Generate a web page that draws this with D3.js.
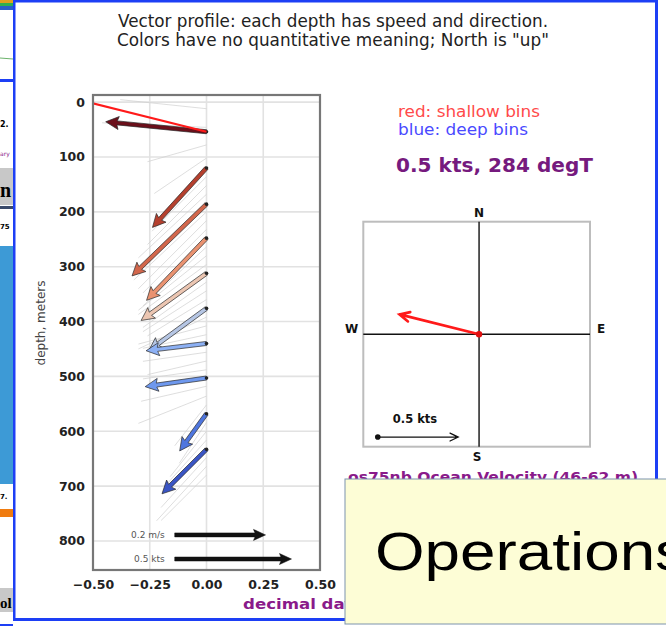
<!DOCTYPE html>
<html>
<head>
<meta charset="utf-8">
<script src="https://cdn.jsdelivr.net/npm/d3@7"></script>
<style>
  body { margin: 0; background: #fff; }
  svg { display: block; }
</style>
</head>
<body>
<svg id="chart" width="666" height="630"></svg>
<script>
/* global d3 */

// ---- data ----
const depthTicks = [0, 100, 200, 300, 400, 500, 600, 700, 800]
const xTicks = [-0.5, -0.25, 0, 0.25, 0.5]

// averaged vectors (m/s), every 4th bin
const arrowDepths = [54, 120, 186, 248, 312, 376, 440, 503, 568, 633]
const arrowU = [-0.222, -0.119, -0.164, -0.132, -0.144, -0.127, -0.133, -0.135, -0.059, -0.098]
const arrowV = [0.022, -0.131, -0.158, -0.137, -0.104, -0.093, -0.016, -0.019, -0.082, -0.098]
const arrowColors = ['#6b0f1a', '#b5402e', '#d2664b', '#e99270', '#ecc6b2',
  '#b6c6e4', '#8cb0f4', '#6e98ee', '#4f76de', '#3a55c4']

// faint single-bin vectors (m/s)
const binDepths = [12, 46, 78, 102, 136, 152, 168, 200, 216, 232, 264, 280, 296, 328, 344, 360,
  392, 408, 424, 456, 472, 488, 518, 536, 552, 584, 600, 616, 648, 664, 680]
const binU = [-0.19, -0.23, -0.13, -0.115, -0.12, -0.13, -0.15, -0.16, -0.15, -0.14, -0.14, -0.15,
  -0.15, -0.14, -0.14, -0.13, -0.15, -0.15, -0.14, -0.14, -0.13, -0.14, -0.144, -0.15, -0.07,
  -0.06, -0.08, -0.09, -0.10, -0.11, -0.10]
const binV = [0.02, 0.01, -0.037, -0.078, -0.12, -0.13, -0.14, -0.15, -0.15, -0.14, -0.13, -0.12,
  -0.11, -0.10, -0.09, -0.08, -0.07, -0.04, -0.03, -0.02, -0.03, -0.02, -0.033, -0.06, -0.09,
  -0.09, -0.10, -0.10, -0.11, -0.12, -0.10]

// mean of the shallow bins
const meanSpeedKts = 0.51
const meanDirDeg = 284
const meanDepth = 54
const meanLabel = '0.5 kts, 284 degT'

// reference arrows
const refLabels = ['0.2 m/s', '0.5 kts']
const refSpeeds = [0.2, 0.5 * 0.5144]
const refDepths = [789, 833]
const compassRefKts = 0.5

const KTS = 0.5144

const svg = d3.select('#chart')

// ---- background slide bits on the left edge ----
svg.append('clipPath').attr('id', 'stripclip').append('rect')
  .attr('x', 0).attr('y', 0).attr('width', 13).attr('height', 630)
const strip = svg.append('g').attr('clip-path', 'url(#stripclip)')
strip.append('rect').attr('x', 0).attr('y', 0).attr('width', 13).attr('height', 3).attr('fill', '#e0a020')
strip.append('rect').attr('x', 0).attr('y', 3).attr('width', 13).attr('height', 3).attr('fill', '#30b050')
strip.append('rect').attr('x', 0).attr('y', 6).attr('width', 13).attr('height', 4).attr('fill', '#2a60c8')
strip.append('line').attr('x1', 0).attr('x2', 13).attr('y1', 58).attr('y2', 59).attr('stroke', '#6cb36c')
strip.append('rect').attr('x', 0).attr('y', 79).attr('width', 13).attr('height', 3).attr('fill', '#1d3ff5')
strip.append('text').attr('x', 0).attr('y', 127).attr('font-size', 8).attr('font-weight', 'bold')
  .attr('font-family', 'DejaVu Sans').text('2.')
strip.append('text').attr('x', 0).attr('y', 156).attr('font-size', 6).attr('fill', '#8a1a8a')
  .attr('font-family', 'DejaVu Sans').text('ary')
strip.append('rect').attr('x', 0).attr('y', 168).attr('width', 13).attr('height', 37).attr('fill', '#c8c8c8')
strip.append('text').attr('x', 0).attr('y', 197).attr('font-size', 20).attr('font-weight', 'bold')
  .attr('font-family', 'Liberation Serif').text('n')
strip.append('rect').attr('x', 0).attr('y', 206).attr('width', 13).attr('height', 3).attr('fill', '#3a4a6a')
strip.append('text').attr('x', 0).attr('y', 229).attr('font-size', 7).attr('font-weight', 'bold')
  .attr('font-family', 'DejaVu Sans').text('75')
strip.append('rect').attr('x', 0).attr('y', 246).attr('width', 13).attr('height', 238).attr('fill', '#3d9ad6')
strip.append('text').attr('x', 0).attr('y', 499).attr('font-size', 7).attr('font-weight', 'bold')
  .attr('font-family', 'DejaVu Sans').text('7.')
strip.append('rect').attr('x', 0).attr('y', 509).attr('width', 13).attr('height', 8).attr('fill', '#f07c10')
strip.append('rect').attr('x', 0).attr('y', 588).attr('width', 13).attr('height', 24).attr('fill', '#c8c8c8')
strip.append('text').attr('x', 0).attr('y', 608).attr('font-size', 15).attr('font-weight', 'bold')
  .attr('font-family', 'Liberation Serif').text('ol')
strip.append('rect').attr('x', 0).attr('y', 624).attr('width', 13).attr('height', 2).attr('fill', '#1d3ff5')

// ---- titles ----
const title = svg.append('g').attr('font-family', 'DejaVu Sans').attr('fill', '#222')
  .attr('text-anchor', 'middle')
title.append('text').attr('x', 333).attr('y', 27).attr('font-size', 17.5)
  .attr('textLength', 430).attr('lengthAdjust', 'spacingAndGlyphs')
  .text('Vector profile: each depth has speed and direction.')
title.append('text').attr('x', 333).attr('y', 45.5).attr('font-size', 17.5)
  .attr('textLength', 432).attr('lengthAdjust', 'spacingAndGlyphs')
  .text('Colors have no quantitative meaning; North is "up"')

// ---- main profile plot ----
const x = d3.scaleLinear().domain([-0.5, 0.5]).range([93, 320])
const y = d3.scaleLinear().domain([-13, 853]).range([95, 570])
const k = 2 // x-axis units per m/s
const dxPx = u => x(u * k) - x(0)
const dyPx = v => -(x(v * k) - x(0)) // north is up

svg.append('clipPath').attr('id', 'plotclip').append('rect')
  .attr('x', x.range()[0]).attr('y', y.range()[0])
  .attr('width', x.range()[1] - x.range()[0]).attr('height', y.range()[1] - y.range()[0])

const plot = svg.append('g')

plot.append('g').selectAll('line.gx').data(xTicks).join('line')
  .attr('x1', d => x(d)).attr('x2', d => x(d))
  .attr('y1', y.range()[0]).attr('y2', y.range()[1])
  .attr('stroke', '#e2e2e2').attr('stroke-width', 1.6)
plot.append('g').selectAll('line.gy').data(depthTicks).join('line')
  .attr('y1', d => y(d)).attr('y2', d => y(d))
  .attr('x1', x.range()[0]).attr('x2', x.range()[1])
  .attr('stroke', '#e2e2e2').attr('stroke-width', 1.6)

const inner = plot.append('g').attr('clip-path', 'url(#plotclip)')

// faint bin vectors
inner.append('g').selectAll('line').data(binDepths).join('line')
  .attr('x1', x(0)).attr('y1', d => y(d))
  .attr('x2', (d, i) => x(0) + dxPx(binU[i]))
  .attr('y2', (d, i) => y(d) + dyPx(binV[i]))
  .attr('stroke', '#d0d0d0').attr('stroke-width', 0.7)

function arrowPath (x0, y0, x1, y1, sw, hw, hl) {
  const dx = x1 - x0
  const dy = y1 - y0
  const L = Math.hypot(dx, dy)
  const ux = dx / L
  const uy = dy / L
  const nx = -uy
  const ny = ux
  const h = Math.min(hl, L * 0.6)
  const nk = h * 0.88
  const bx = x1 - ux * h
  const by = y1 - uy * h
  const kx = x1 - ux * nk
  const ky = y1 - uy * nk
  const pts = [
    [x0 + nx * sw, y0 + ny * sw], [kx + nx * sw, ky + ny * sw], [bx + nx * hw, by + ny * hw],
    [x1, y1],
    [bx - nx * hw, by - ny * hw], [kx - nx * sw, ky - ny * sw], [x0 - nx * sw, y0 - ny * sw]
  ]
  return d3.line()(pts) + 'Z'
}

inner.append('g').selectAll('path').data(arrowDepths).join('path')
  .attr('d', (d, i) => arrowPath(x(0), y(d), x(0) + dxPx(arrowU[i]), y(d) + dyPx(arrowV[i]), 2, 6.5, 13))
  .attr('fill', (d, i) => arrowColors[i])
  .attr('stroke', '#2a2a2a').attr('stroke-width', 0.7).attr('stroke-linejoin', 'round')

inner.append('g').selectAll('circle').data(arrowDepths).join('circle')
  .attr('cx', x(0)).attr('cy', d => y(d)).attr('r', 1.8).attr('fill', '#222')

// mean shallow vector
const meanMs = meanSpeedKts * KTS
const rad = meanDirDeg * Math.PI / 180
inner.append('line')
  .attr('x1', x(0)).attr('y1', y(meanDepth))
  .attr('x2', x(0) + dxPx(meanMs * Math.sin(rad)))
  .attr('y2', y(meanDepth) + dyPx(meanMs * Math.cos(rad)))
  .attr('stroke', '#ff1a1a').attr('stroke-width', 2.2)

// reference arrows
const refStart = -0.14
inner.append('g').selectAll('path').data(refSpeeds).join('path')
  .attr('d', (d, i) => arrowPath(x(refStart), y(refDepths[i]), x(refStart) + dxPx(d), y(refDepths[i]), 2, 5.5, 12))
  .attr('fill', '#111').attr('stroke', '#111').attr('stroke-width', 0.5)
plot.append('g').selectAll('text').data(refLabels).join('text')
  .attr('x', x(refStart) - 10).attr('y', (d, i) => y(refDepths[i]) + 3)
  .attr('text-anchor', 'end').attr('font-family', 'DejaVu Sans').attr('font-size', 9)
  .attr('fill', '#555').text(d => d)

// frame
plot.append('rect')
  .attr('x', x.range()[0]).attr('y', y.range()[0])
  .attr('width', x.range()[1] - x.range()[0]).attr('height', y.range()[1] - y.range()[0])
  .attr('fill', 'none').attr('stroke', '#777').attr('stroke-width', 2.2)

// axes
const yAxis = plot.append('g').attr('transform', `translate(${x.range()[0]},0)`)
  .call(d3.axisLeft(y).tickValues(depthTicks).tickSize(0).tickPadding(8))
const xAxis = plot.append('g').attr('transform', `translate(0,${y.range()[1]})`)
  .call(d3.axisBottom(x).tickValues(xTicks).tickSize(0).tickPadding(10).tickFormat(d3.format('.2f')))
for (const ax of [yAxis, xAxis]) {
  ax.select('.domain').remove()
  ax.selectAll('text').attr('font-family', 'DejaVu Sans').attr('font-weight', 'bold')
    .attr('font-size', 12.5).attr('fill', '#222')
}

svg.append('text').attr('transform', 'translate(45,323) rotate(-90)')
  .attr('text-anchor', 'middle').attr('font-family', 'DejaVu Sans').attr('font-size', 12)
  .attr('fill', '#444').text('depth, meters')

svg.append('text').attr('x', 243).attr('y', 609)
  .attr('font-family', 'DejaVu Sans').attr('font-weight', 'bold').attr('font-size', 14)
  .attr('textLength', 112).attr('lengthAdjust', 'spacingAndGlyphs')
  .attr('fill', '#8a1a8a').text('decimal day')

// ---- legend text ----
svg.append('text').attr('x', 398).attr('y', 117).attr('font-family', 'DejaVu Sans').attr('font-size', 16)
  .attr('textLength', 142).attr('lengthAdjust', 'spacingAndGlyphs')
  .attr('fill', '#ff4a4a').text('red: shallow bins')
svg.append('text').attr('x', 398).attr('y', 135).attr('font-family', 'DejaVu Sans').attr('font-size', 16)
  .attr('textLength', 130).attr('lengthAdjust', 'spacingAndGlyphs')
  .attr('fill', '#4a4aff').text('blue: deep bins')
svg.append('text').attr('x', 396).attr('y', 172).attr('font-family', 'DejaVu Sans').attr('font-size', 19)
  .attr('font-weight', 'bold').attr('textLength', 197).attr('lengthAdjust', 'spacingAndGlyphs')
  .attr('fill', '#761a7e').text(meanLabel)

// ---- compass ----
const cx = d3.scaleLinear().domain([-0.72, 0.69]).range([363.3, 590])
const cy = d3.scaleLinear().domain([-0.7, 0.7]).range([446.7, 221.7])
const comp = svg.append('g')
comp.append('rect').attr('x', cx.range()[0]).attr('y', cy.range()[1])
  .attr('width', cx.range()[1] - cx.range()[0]).attr('height', cy.range()[0] - cy.range()[1])
  .attr('fill', 'none').attr('stroke', '#bdbdbd').attr('stroke-width', 2)
comp.append('line').attr('x1', cx(0)).attr('x2', cx(0)).attr('y1', cy.range()[1]).attr('y2', cy.range()[0])
  .attr('stroke', '#111').attr('stroke-width', 1.4)
comp.append('line').attr('y1', cy(0)).attr('y2', cy(0)).attr('x1', cx.range()[0]).attr('x2', cx.range()[1])
  .attr('stroke', '#111').attr('stroke-width', 1.4)

const dirLabels = [
  { t: 'N', x: cx(0), y: cy.range()[1] - 5, a: 'middle' },
  { t: 'S', x: cx(0) - 2, y: cy.range()[0] + 14, a: 'middle' },
  { t: 'W', x: cx.range()[0] - 5, y: cy(0) - 1, a: 'end' },
  { t: 'E', x: cx.range()[1] + 7, y: cy(0) - 1, a: 'start' }
]
comp.append('g').selectAll('text').data(dirLabels).join('text')
  .attr('x', d => d.x).attr('y', d => d.y).attr('text-anchor', d => d.a)
  .attr('font-family', 'DejaVu Sans').attr('font-weight', 'bold').attr('font-size', 12)
  .attr('fill', '#111').text(d => d.t)

function openArrow (g, x0, y0, x1, y1, color, w, hl) {
  const ang = Math.atan2(y1 - y0, x1 - x0)
  const a1 = ang + Math.PI - 0.45
  const a2 = ang + Math.PI + 0.45
  g.append('path')
    .attr('d', `M${x0},${y0}L${x1},${y1}M${x1 + hl * Math.cos(a1)},${y1 + hl * Math.sin(a1)}` +
      `L${x1},${y1}L${x1 + hl * Math.cos(a2)},${y1 + hl * Math.sin(a2)}`)
    .attr('fill', 'none').attr('stroke', color).attr('stroke-width', w)
    .attr('stroke-linecap', 'round').attr('stroke-linejoin', 'miter')
}

openArrow(comp, cx(0), cy(0), cx(meanSpeedKts * Math.sin(rad)), cy(meanSpeedKts * Math.cos(rad)), '#ff1a1a', 2.6, 11)
comp.append('circle').attr('cx', cx(0)).attr('cy', cy(0)).attr('r', 3.2).attr('fill', '#e01010')

const refX = -0.63
const refY = -0.64
openArrow(comp, cx(refX), cy(refY), cx(refX + compassRefKts), cy(refY), '#111', 1.3, 9)
comp.append('circle').attr('cx', cx(refX)).attr('cy', cy(refY)).attr('r', 2.8).attr('fill', '#111')
comp.append('text').attr('x', cx(refX + compassRefKts / 2) - 3).attr('y', cy(refY) - 14)
  .attr('text-anchor', 'middle').attr('font-family', 'DejaVu Sans').attr('font-weight', 'bold')
  .attr('font-size', 11.5).attr('fill', '#111').text('0.5 kts')

svg.append('text').attr('x', 348).attr('y', 482).attr('font-family', 'DejaVu Sans').attr('font-weight', 'bold')
  .attr('font-size', 14).attr('textLength', 290).attr('lengthAdjust', 'spacingAndGlyphs')
  .attr('fill', '#8a1a8a').text('os75nb Ocean Velocity (46-62 m)')

// ---- slide frame ----
const frame = svg.append('g').attr('fill', '#1d3ff5')
frame.append('rect').attr('x', 13).attr('y', 0).attr('width', 645).attr('height', 2.5)
frame.append('rect').attr('x', 13).attr('y', 0).attr('width', 2.5).attr('height', 621)
frame.append('rect').attr('x', 655).attr('y', 0).attr('width', 3).attr('height', 480)
frame.append('rect').attr('x', 13).attr('y', 618).attr('width', 333).attr('height', 3)

// ---- callout box ----
svg.append('rect').attr('x', 345).attr('y', 479).attr('width', 330).attr('height', 145)
  .attr('fill', '#fdfdd6').attr('stroke', '#7d93ad').attr('stroke-width', 1)
svg.append('text').attr('x', 375).attr('y', 570).attr('font-family', 'Liberation Sans, Arial, sans-serif')
  .attr('font-size', 54).attr('textLength', 312).attr('lengthAdjust', 'spacingAndGlyphs')
  .attr('fill', '#000').text('Operations')
</script>
</body>
</html>
